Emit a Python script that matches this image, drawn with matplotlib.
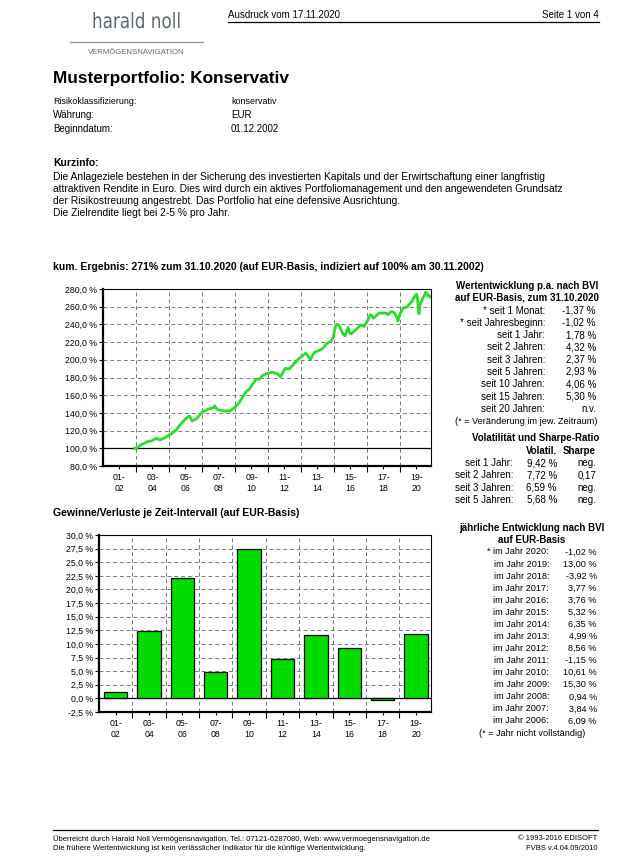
import numpy as np
import matplotlib
matplotlib.use("Agg")
import matplotlib.pyplot as plt
import matplotlib.ticker as ticker
from matplotlib.textpath import TextPath
from matplotlib.patches import PathPatch
from matplotlib.font_manager import FontProperties
from matplotlib.transforms import Affine2D

plt.rcParams['font.family'] = ['Liberation Sans', 'DejaVu Sans']

W, H = 627, 858

# --- cumulative performance (indexed to 100 %) ---
line_years = [2002.92, 2003.00, 2003.10, 2003.20, 2003.30, 2003.42, 2003.55, 2003.70, 2003.83, 2003.95,
              2004.05, 2004.15, 2004.23, 2004.32, 2004.45, 2004.58, 2004.70, 2004.84, 2004.94, 2005.05,
              2005.15, 2005.24, 2005.35, 2005.45, 2005.55, 2005.65, 2005.75, 2005.85, 2005.95, 2006.05,
              2006.15, 2006.25, 2006.32, 2006.40, 2006.50, 2006.60, 2006.70, 2006.80, 2006.90, 2007.00,
              2007.10, 2007.25, 2007.40, 2007.50, 2007.62, 2007.72, 2007.77, 2007.85, 2007.97, 2008.10,
              2008.25, 2008.40, 2008.55, 2008.70, 2008.80, 2008.90, 2009.00, 2009.10, 2009.20, 2009.30,
              2009.40, 2009.50, 2009.60, 2009.70, 2009.83, 2009.95, 2010.05, 2010.15, 2010.25, 2010.35,
              2010.45, 2010.55, 2010.65, 2010.80, 2010.95, 2011.05, 2011.15, 2011.30, 2011.42, 2011.55,
              2011.65, 2011.75, 2011.85, 2011.95, 2012.05, 2012.15, 2012.28, 2012.40, 2012.55, 2012.70,
              2012.85, 2013.00, 2013.15, 2013.30, 2013.40, 2013.50, 2013.57, 2013.68, 2013.80, 2013.93,
              2014.05, 2014.20, 2014.33, 2014.45, 2014.58, 2014.70, 2014.84, 2014.92, 2014.98, 2015.06,
              2015.14, 2015.22, 2015.30, 2015.40, 2015.50, 2015.60, 2015.68, 2015.78, 2015.86, 2015.95,
              2016.05, 2016.20, 2016.36, 2016.50, 2016.62, 2016.72, 2016.82, 2016.90, 2017.00, 2017.10,
              2017.20, 2017.30, 2017.40, 2017.52, 2017.65, 2017.77, 2017.90, 2018.05, 2018.17, 2018.27,
              2018.38, 2018.48, 2018.58, 2018.68, 2018.78, 2018.88, 2018.95, 2019.03, 2019.12, 2019.22,
              2019.35, 2019.47, 2019.60, 2019.72, 2019.82, 2019.92, 2020.00, 2020.05, 2020.10, 2020.15,
              2020.19, 2020.25, 2020.32, 2020.39, 2020.48, 2020.56, 2020.62, 2020.70, 2020.76, 2020.83]
line_values = [100.0, 100.5, 101.0, 102.5, 104.0, 105.0, 106.0, 107.5, 108.0, 108.5,
               109.5, 110.5, 111.5, 110.5, 109.5, 110.5, 111.5, 113.0, 114.0, 115.5,
               116.5, 118.0, 119.5, 121.0, 123.5, 126.0, 128.0, 130.0, 132.5, 134.0,
               135.5, 136.5, 134.0, 131.0, 131.5, 133.0, 134.0, 136.5, 138.5, 140.5,
               141.5, 143.0, 144.5, 145.0, 145.5, 146.5, 148.0, 145.5, 143.5, 143.0,
               142.5, 142.0, 142.5, 142.0, 143.5, 145.0, 146.5, 148.5, 150.5, 153.0,
               156.0, 159.0, 162.0, 164.5, 166.0, 169.0, 172.0, 174.5, 177.0, 178.5,
               178.0, 179.5, 182.0, 183.5, 184.5, 185.0, 185.5, 186.0, 185.0, 184.5,
               183.0, 181.0, 183.5, 187.5, 190.5, 190.0, 189.5, 192.0, 195.0, 198.0,
               201.0, 203.0, 205.5, 207.5, 205.0, 202.0, 200.5, 204.0, 208.0, 209.5,
               210.0, 211.5, 213.0, 216.0, 218.5, 220.0, 221.5, 224.0, 228.0, 235.0,
               239.5, 240.0, 239.0, 235.0, 231.0, 228.0, 227.0, 233.0, 236.5, 230.0,
               229.5, 232.0, 234.5, 237.0, 239.5, 238.5, 237.5, 240.0, 243.0, 247.0,
               251.0, 249.5, 247.0, 249.0, 251.5, 253.0, 252.5, 253.0, 252.5, 251.0,
               253.0, 254.5, 254.0, 252.5, 249.0, 244.0, 249.0, 253.0, 256.5, 259.0,
               259.0, 260.5, 263.5, 266.0, 269.5, 272.0, 274.0, 271.0, 262.0, 252.0,
               259.0, 264.0, 266.5, 270.0, 272.5, 276.5, 275.5, 272.0, 273.0, 271.0]

# --- two-year interval results ---
bar_labels = ['01-\n02', '03-\n04', '05-\n06', '07-\n08', '09-\n10',
              '11-\n12', '13-\n14', '15-\n16', '17-\n18', '19-\n20']
bar_values = [1.1, 12.4, 22.1, 4.8, 27.5, 7.3, 11.7, 9.3, -0.3, 11.8]

# --- tables ---
perf_labels = ['* seit 1 Monat:', '* seit Jahresbeginn:', 'seit 1 Jahr:', 'seit 2 Jahren:',
               'seit 3 Jahren:', 'seit 5 Jahren:', 'seit 10 Jahren:', 'seit 15 Jahren:',
               'seit 20 Jahren:']
perf_values = ['-1,37 %', '-1,02 %', '1,78 %', '4,32 %', '2,37 %', '2,93 %', '4,06 %',
               '5,30 %', 'n.v.']
vol_labels = ['seit 1 Jahr:', 'seit 2 Jahren:', 'seit 3 Jahren:', 'seit 5 Jahren:']
vol_values = ['9,42 %', '7,72 %', '6,59 %', '5,68 %']
sharpe_values = ['neg.', '0,17', 'neg.', 'neg.']
year_labels = ['* im Jahr 2020:'] + ['im Jahr %d:' % y for y in range(2019, 2005, -1)]
year_values = ['-1,02 %', '13,00 %', '-3,92 %', '3,77 %', '3,76 %', '5,32 %', '6,35 %',
               '4,99 %', '8,56 %', '-1,15 %', '10,61 %', '15,30 %', '0,94 %', '3,84 %', '6,09 %']

fig = plt.figure(figsize=(W / 100, H / 100), dpi=100)
fig.patch.set_facecolor('white')


def T(x, y, s, **kw):
    kw.setdefault('va', 'center')
    kw.setdefault('fontsize', 7)
    return fig.text(x / W, 1 - y / H, s, **kw)


def hline(x0, x1, y, color='black', lw=0.8):
    fig.add_artist(plt.Line2D([x0 / W, x1 / W], [1 - y / H, 1 - y / H],
                              transform=fig.transFigure, color=color, lw=lw))


def squeezed_text(cx, base_y, s, height, xscale, color, family='DejaVu Sans'):
    # narrow logo lettering: text outline squeezed horizontally
    tp = TextPath((0, 0), s, size=1, prop=FontProperties(family=family))
    ext = tp.get_extents()
    tr = (Affine2D().translate(-(ext.x0 + ext.x1) / 2, 0)
          .scale(height * xscale / W, height / H)
          .translate(cx / W, 1 - base_y / H) + fig.transFigure)
    fig.add_artist(PathPatch(tp, transform=tr, facecolor=color, edgecolor='none'))


def pct(v, pos=None):
    return ('%.1f %%' % v).replace('.', ',')


def make_axes(left, top, right, bottom):
    ax = fig.add_axes([left / W, 1 - bottom / H, (right - left) / W, (bottom - top) / H])
    for s in ['top', 'right']:
        ax.spines[s].set_linewidth(0.8)
    for s in ['left', 'bottom']:
        ax.spines[s].set_linewidth(1.6)
    ax.grid(True, which='major', color='#7a7a7a', ls=(0, (4, 3)), lw=0.7)
    ax.set_axisbelow(True)
    ax.yaxis.set_major_formatter(ticker.FuncFormatter(pct))
    ax.tick_params(axis='y', length=3, width=0.8, pad=1.5, labelsize=6.3)
    ax.tick_params(axis='x', which='major', length=4, width=0.8, labelbottom=False)
    ax.tick_params(axis='x', which='minor', length=2, width=0.8, pad=3, labelsize=6.3)
    return ax


# ---------- header ----------
squeezed_text(136.5, 28, 'harald noll', 21, 0.8, '#5d686e')
hline(70, 203, 42, color='#9a9a9a', lw=1.0)
T(136, 53, 'VERMÖGENSNAVIGATION', ha='center', fontsize=5.6, color='#6a6a6a')

T(228, 15, 'Ausdruck vom 17.11.2020', fontsize=7)
T(599, 15, 'Seite 1 von 4', ha='right', fontsize=7)
hline(228, 599, 22, lw=0.9)

T(53, 78, 'Musterportfolio: Konservativ', fontsize=12.4, fontweight='bold')
T(53, 101, 'Risikoklassifizierung:', fontsize=6.4)
T(231, 101, 'konservativ', fontsize=6.4)
T(53, 115, 'Währung:', fontsize=7)
T(231, 115, 'EUR', fontsize=7)
T(53, 129, 'Beginndatum:', fontsize=7)
T(231, 129, '01.12.2002', fontsize=7)

T(53, 163, 'Kurzinfo:', fontsize=7.5, fontweight='bold')
para = ['Die Anlageziele bestehen in der Sicherung des investierten Kapitals und der Erwirtschaftung einer langfristig',
        'attraktiven Rendite in Euro. Dies wird durch ein aktives Portfoliomanagement und den angewendeten Grundsatz',
        'der Risikostreuung angestrebt. Das Portfolio hat eine defensive Ausrichtung.',
        'Die Zielrendite liegt bei 2-5 % pro Jahr.']
for i, line in enumerate(para):
    T(53, 177 + 12 * i, line, fontsize=7.4)

# ---------- line chart ----------
T(53, 267, 'kum. Ergebnis: 271% zum 31.10.2020 (auf EUR-Basis, indiziert auf 100% am 30.11.2002)',
  fontsize=7.5, fontweight='bold')
ax1 = make_axes(103, 289, 431, 466)
ax1.plot(line_years, line_values, color='#2bdc2b', lw=2.0, zorder=3)
ax1.axhline(100, color='black', lw=0.9, zorder=2)
ax1.set_xlim(2001, 2020.88)
ax1.set_ylim(80, 280)
ax1.yaxis.set_major_locator(ticker.MultipleLocator(20))
ax1.set_xticks(np.arange(2003, 2020, 2))
ax1.set_xticks(np.arange(2002, 2021, 2), minor=True)
ax1.set_xticklabels(bar_labels, minor=True, linespacing=1.25)

# ---------- right table 1 ----------
T(527, 286, 'Wertentwicklung p.a. nach BVI', ha='center', fontweight='bold')
T(527, 298, 'auf EUR-Basis, zum 31.10.2020', ha='center', fontweight='bold')
for i, (lab, val) in enumerate(zip(perf_labels, perf_values)):
    y = 310.5 + 12.3 * i
    T(545, y, lab, ha='right')
    T(596, y, val, ha='right')
T(526, 422, '(* = Veränderung im jew. Zeitraum)', ha='center', fontsize=6.6)
T(536, 438, 'Volatilität und Sharpe-Ratio', ha='center', fontweight='bold')
T(557, 450.5, 'Volatil.', ha='right', fontweight='bold')
T(596, 450.5, 'Sharpe', ha='right', fontweight='bold')
for i, (lab, v, s) in enumerate(zip(vol_labels, vol_values, sharpe_values)):
    y = 463 + 12.3 * i
    T(513, y, lab, ha='right')
    T(557, y, v, ha='right')
    T(596, y, s, ha='right')

# ---------- bar chart ----------
T(53, 513, 'Gewinne/Verluste je Zeit-Intervall (auf EUR-Basis)', fontsize=7.6, fontweight='bold')
ax2 = make_axes(99, 535, 431, 712)
x = np.arange(len(bar_values))
ax2.bar(x, bar_values, width=0.7, color='#00dc00', edgecolor='black', lw=0.9, zorder=3)
ax2.axhline(0, color='black', lw=0.9, zorder=2)
ax2.set_xlim(-0.5, 9.45)
ax2.set_ylim(-2.5, 30)
ax2.yaxis.set_major_locator(ticker.MultipleLocator(2.5))
ax2.set_xticks(x[:-1] + 0.5)
ax2.set_xticks(x, minor=True)
ax2.set_xticklabels(bar_labels, minor=True, linespacing=1.25)

# ---------- right table 2 ----------
T(532, 528, 'jährliche Entwicklung nach BVI', ha='center', fontweight='bold')
T(532, 540, 'auf EUR-Basis', ha='center', fontweight='bold')
for i, (lab, val) in enumerate(zip(year_labels, year_values)):
    y = 552 + 12.07 * i
    T(549, y, lab, ha='right', fontsize=6.6)
    T(597, y, val, ha='right', fontsize=6.6)
T(532, 733, '(* = Jahr nicht vollständig)', ha='center', fontsize=6.6)

# ---------- footer ----------
hline(53, 598, 830, lw=0.9)
T(53, 839, 'Überreicht durch Harald Noll Vermögensnavigation, Tel.: 07121-6287080, '
  'Web: www.vermoegensnavigation.de', fontsize=5.5)
T(53, 848, 'Die frühere Wertentwicklung ist kein verlässlicher Indikator für die künftige '
  'Wertentwicklung.', fontsize=5.5)
T(597, 839, '© 1993-2016 EDISOFT', ha='right', fontsize=5.5)
T(597, 848, 'FVBS v.4.04.09/2010', ha='right', fontsize=5.5)

fig.savefig('out.png', dpi=100)
